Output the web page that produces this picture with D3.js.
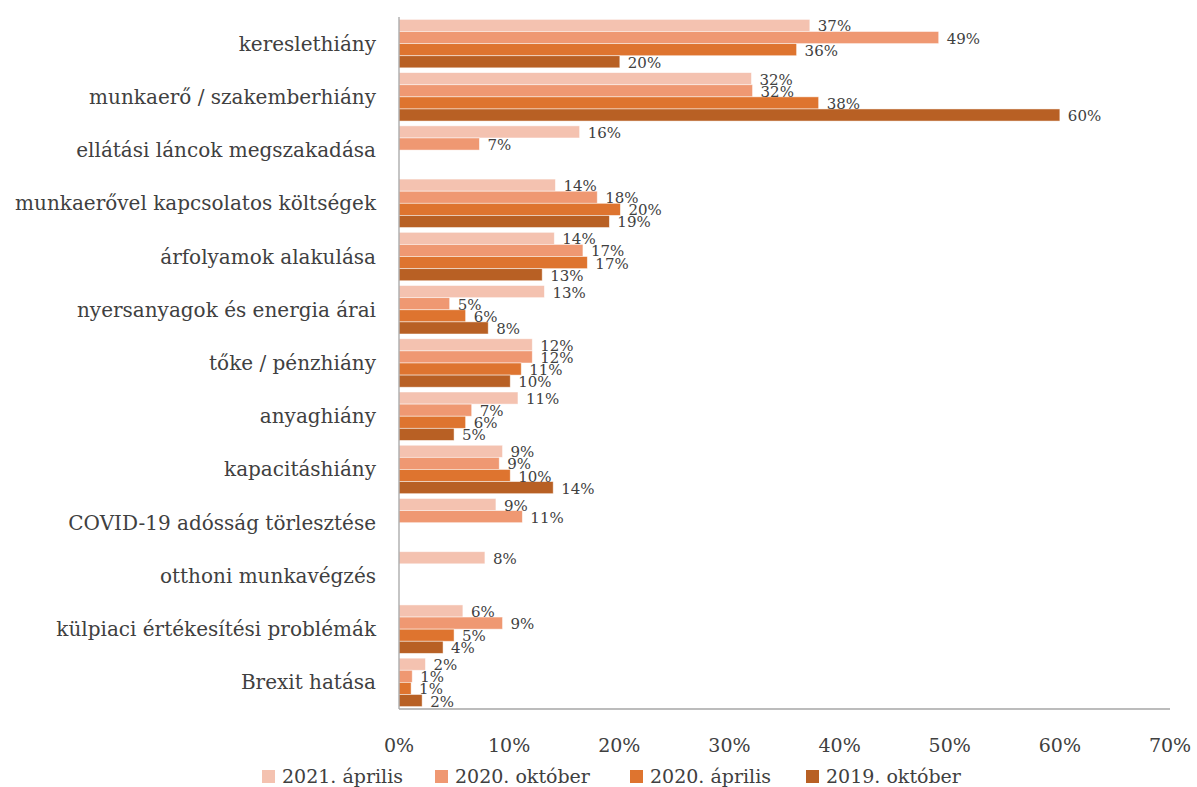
<!DOCTYPE html>
<html>
<head>
<meta charset="utf-8">
<script src="https://d3js.org/d3.v7.min.js"></script>
<style>
body { margin: 0; background: #fff; }
text { font-family: "DejaVu Serif", serif; fill: #404040; }
</style>
</head>
<body>
<div id="chart"></div>
<script>
var categories = ["kereslethiány", "munkaerő / szakemberhiány", "ellátási láncok megszakadása",
  "munkaerővel kapcsolatos költségek", "árfolyamok alakulása", "nyersanyagok és energia árai",
  "tőke / pénzhiány", "anyaghiány", "kapacitáshiány", "COVID-19 adósság törlesztése",
  "otthoni munkavégzés", "külpiaci értékesítési problémák", "Brexit hatása"];

var seriesNames = ["2021. április", "2020. október", "2020. április", "2019. október"];
var colors = ["#f4c2b0", "#ef9872", "#de742f", "#b86024"];

// null = no bar for that survey
var apr2021 = [37.3, 32.0, 16.4, 14.2, 14.1, 13.2, 12.1, 10.8, 9.4, 8.8, 7.8, 5.8, 2.4];
var okt2020 = [49.0, 32.1, 7.3, 18.0, 16.7, 4.6, 12.1, 6.6, 9.1, 11.2, null, 9.4, 1.2];
var apr2020 = [36.1, 38.1, null, 20.1, 17.1, 6.05, 11.1, 6.05, 10.1, null, null, 5.0, 1.1];
var okt2019 = [20.05, 60.0, null, 19.1, 13.0, 8.1, 10.1, 5.0, 14.0, null, null, 4.0, 2.1];
var series = [apr2021, okt2020, apr2020, okt2019];

var xTicks = [0, 10, 20, 30, 40, 50, 60, 70];

var width = 1197, height = 787;
var margin = {top: 17, right: 27, bottom: 78, left: 399};

var svg = d3.select("#chart").append("svg")
    .attr("width", width)
    .attr("height", height);

var x = d3.scaleLinear().domain([0, 70]).range([margin.left, width - margin.right]);
var y = d3.scaleBand().domain(categories).range([margin.top, height - margin.bottom]).paddingInner(0.09).paddingOuter(0.045);
var y1 = d3.scaleBand().domain(d3.range(4)).range([0, y.bandwidth()]);

var rows = [];
categories.forEach(function(c, i) {
  series.forEach(function(s, j) {
    if (s[i] != null) rows.push({cat: c, s: j, v: s[i]});
  });
});

svg.append("g").selectAll("rect")
  .data(rows)
  .enter().append("rect")
    .attr("x", x(0))
    .attr("y", function(d) { return y(d.cat) + y1(d.s); })
    .attr("width", function(d) { return x(d.v) - x(0); })
    .attr("height", y1.bandwidth())
    .attr("fill", function(d) { return colors[d.s]; })
    .attr("stroke", "#fff")
    .attr("stroke-opacity", 0.6)
    .attr("stroke-width", 0.8);

svg.append("g").selectAll("text")
  .data(rows)
  .enter().append("text")
    .attr("x", function(d) { return x(d.v) + 8; })
    .attr("y", function(d) { return y(d.cat) + y1(d.s) + y1.bandwidth() / 2 + 1; })
    .attr("dominant-baseline", "central")
    .style("font-size", "15px")
    .text(function(d) { return Math.round(d.v) + "%"; });

// axes lines
svg.append("line")
  .attr("x1", x(0)).attr("x2", x(0))
  .attr("y1", margin.top).attr("y2", height - margin.bottom)
  .attr("stroke", "#a6a6a6").attr("stroke-width", 1.3);
svg.append("line")
  .attr("x1", x(0)).attr("x2", x(70))
  .attr("y1", height - margin.bottom).attr("y2", height - margin.bottom)
  .attr("stroke", "#a6a6a6").attr("stroke-width", 1.3);

// category labels
svg.append("g").selectAll("text")
  .data(categories)
  .enter().append("text")
    .attr("x", 376)
    .attr("y", function(d) { return y(d) + y.bandwidth() / 2; })
    .attr("text-anchor", "end")
    .attr("dominant-baseline", "central")
    .style("font-size", "20px")
    .text(function(d) { return d; });

// x tick labels
svg.append("g").selectAll("text")
  .data(xTicks)
  .enter().append("text")
    .attr("x", function(d) { return x(d); })
    .attr("y", 745)
    .attr("text-anchor", "middle")
    .attr("dominant-baseline", "central")
    .style("font-size", "19px")
    .text(function(d) { return d + "%"; });

// legend
var legendX = [262, 435, 630, 806];
var legend = svg.append("g").selectAll("g")
  .data(seriesNames)
  .enter().append("g")
    .attr("transform", function(d, i) { return "translate(" + legendX[i] + ",776)"; });
legend.append("rect")
  .attr("x", 0).attr("y", -6).attr("width", 13).attr("height", 13)
  .attr("fill", function(d, i) { return colors[i]; });
legend.append("text")
  .attr("x", 20).attr("y", 0)
  .attr("dominant-baseline", "central")
  .style("font-size", "19px")
  .text(function(d) { return d; });
</script>
</body>
</html>
